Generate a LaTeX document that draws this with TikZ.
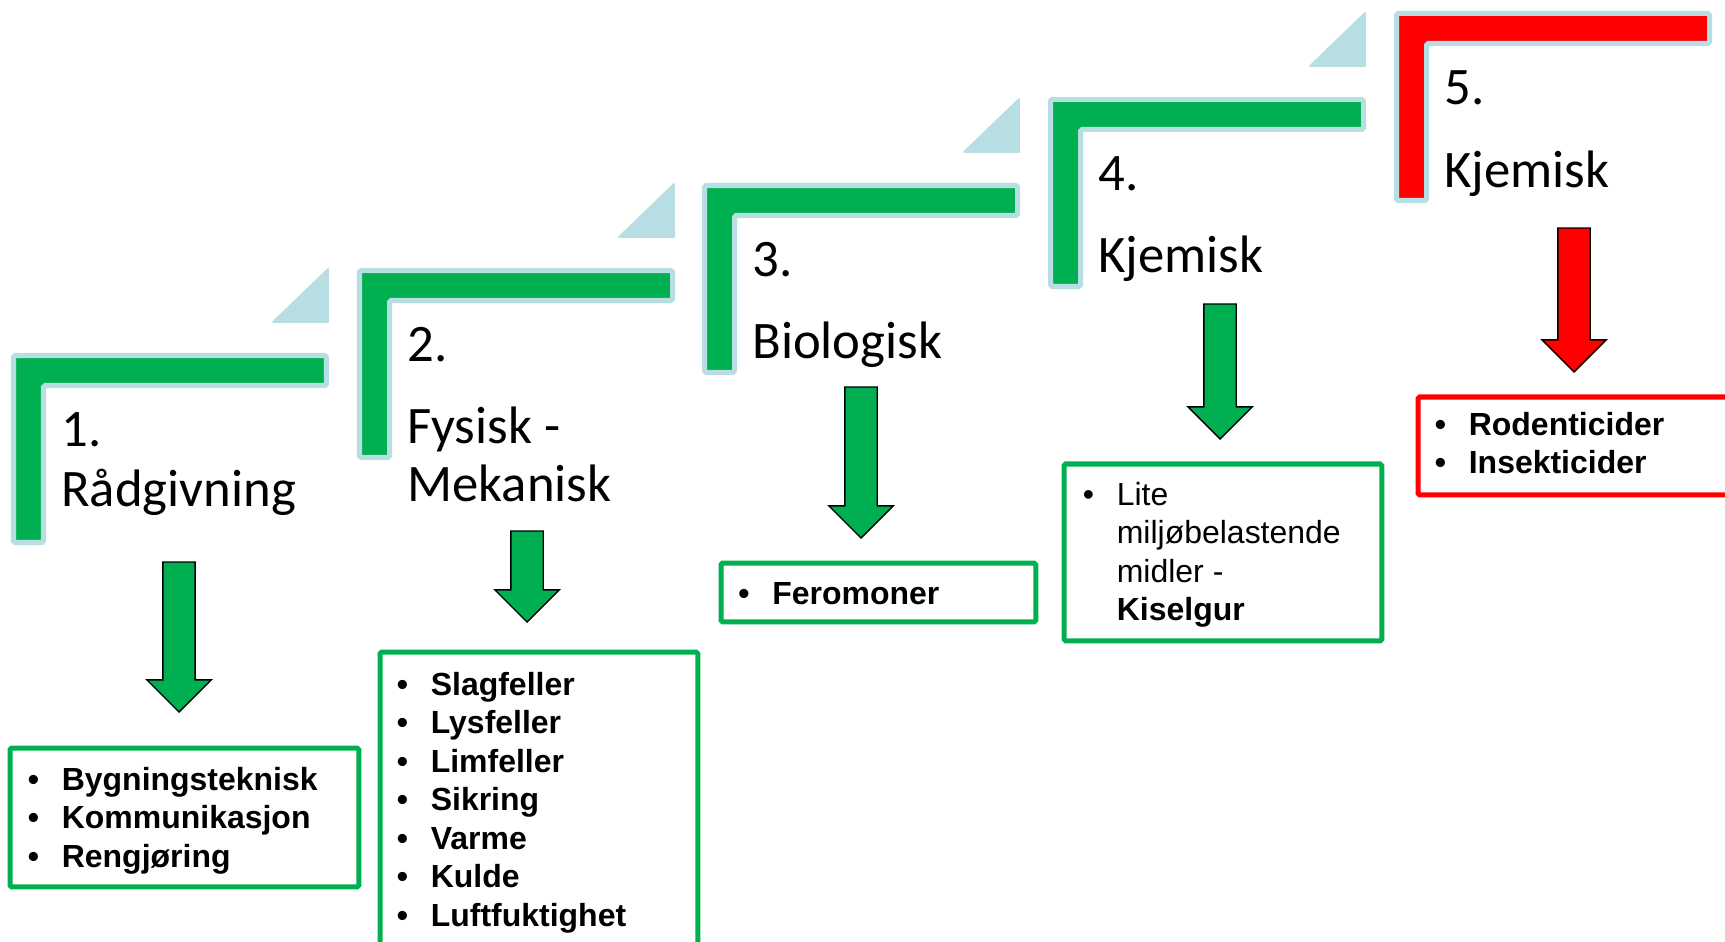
\documentclass[tikz,border=0pt]{standalone}
\usepackage{fontspec}
\newfontfamily\titlefont{Carlito}
\newfontfamily\listfont{Liberation Sans}
\usepackage{tikz}
\usetikzlibrary{shapes.arrows}
\definecolor{stepgreen}{RGB}{0, 176, 80}
\definecolor{stepred}{RGB}{255, 0, 0}
\definecolor{edgeblue}{RGB}{183, 222, 226}
\newcommand{\bitem}[1]{\strut\makebox[0.68cm][l]{\textbullet}#1}
\newcommand{\bcont}[1]{\strut\hspace*{0.68cm}#1}

\begin{document}
\begin{tikzpicture}[x=0.02cm, y=-0.02cm,
  bar/.style={fill=stepgreen, draw=edgeblue, line width=2.85pt, rounded corners=1pt},
  wedge/.style={fill=edgeblue, draw=edgeblue, line width=1pt, line join=round},
  steptitle/.style={font=\titlefont\fontsize{30pt}{33pt}\selectfont, anchor=base west, inner sep=0pt, align=left},
  downarrow/.style={single arrow, draw=black, line width=0.8pt, fill=stepgreen, shape border rotate=270,
    single arrow head extend=0.32cm, inner sep=0.31cm, anchor=tip},
  listbox/.style={draw=stepgreen, line width=2.85pt, fill=white, anchor=north west, inner sep=0pt, rounded corners=1pt},
  listtext/.style={font=\listfont\fontsize{18.2pt}{21.9pt}\selectfont, anchor=north west, inner sep=0pt, align=left},
  listbold/.style={listtext, font=\listfont\bfseries\fontsize{18.2pt}{21.9pt}\selectfont}
]
  \useasboundingbox (0,0) rectangle (1725,942);
  \clip (0,0) rectangle (1725,942);

  % Step 1
  \draw[bar] (13.5,355.5) -- ++(313,0) -- ++(0,30) -- ++(-283,0) -- ++(0,157) -- ++(-30,0) -- cycle;
  \draw[wedge] (328,269) -- (328,322) -- (273,322) -- cycle;
  \node[steptitle] (num1) at (61,447) {1.};
  \node[steptitle] (title1) at (61,507) {Rådgivning};
  \node[downarrow, minimum height=3cm] (arrow1) at (179,713) {};
  \node[listbox, minimum width=6.98cm, minimum height=2.78cm] (box1) at (7.5,745.5) {};
  \node[listbold] (list1) at (27.5,763.1) {\bitem{Bygningsteknisk}\\ \bitem{Kommunikasjon}\\ \bitem{Rengjøring}};

  % Step 2
  \draw[bar] (359.5,270.5) -- ++(313,0) -- ++(0,30) -- ++(-283,0) -- ++(0,157) -- ++(-30,0) -- cycle;
  \draw[wedge] (674,184) -- (674,237) -- (619,237) -- cycle;
  \node[steptitle] (num2) at (407,362) {2.};
  \node[steptitle] (title2) at (407,501) {Fysisk -\\Mekanisk};
  \node[downarrow, minimum height=1.82cm] (arrow2) at (527,623) {};
  \node[listbox, minimum width=6.36cm, minimum height=6.1cm] (box2) at (377.5,649.5) {};
  \node[listbold] (list2) at (396.5,668.1) {\bitem{Slagfeller}\\ \bitem{Lysfeller}\\ \bitem{Limfeller}\\
    \bitem{Sikring}\\ \bitem{Varme}\\ \bitem{Kulde}\\ \bitem{Luftfuktighet}};

  % Step 3
  \draw[bar] (704.5,185.5) -- ++(313,0) -- ++(0,30) -- ++(-283,0) -- ++(0,157) -- ++(-30,0) -- cycle;
  \draw[wedge] (1019,99) -- (1019,152) -- (964,152) -- cycle;
  \node[steptitle] (num3) at (752,277) {3.};
  \node[steptitle] (title3) at (752,359) {Biologisk};
  \node[downarrow, minimum height=3.02cm] (arrow3) at (861,539) {};
  \node[listbox, minimum width=6.3cm, minimum height=1.18cm] (box3) at (718.5,560.5) {};
  \node[listbold] (list3) at (738,577.1) {\bitem{Feromoner}};

  % Step 4
  \draw[bar] (1050.5,99.5) -- ++(313,0) -- ++(0,30) -- ++(-283,0) -- ++(0,157) -- ++(-30,0) -- cycle;
  \draw[wedge] (1365,13) -- (1365,66) -- (1310,66) -- cycle;
  \node[steptitle] (num4) at (1098,191) {4.};
  \node[steptitle] (title4) at (1098,273) {Kjemisk};
  \node[downarrow, minimum height=2.7cm] (arrow4) at (1220,440) {};
  \node[listbox, minimum width=6.36cm, minimum height=3.54cm] (box4) at (1061.5,461.5) {};
  \node[listtext] (list4) at (1082.5,478.1) {\bitem{Lite}\\ \bcont{miljøbelastende}\\ \bcont{midler -}\\ \bcont{\textbf{Kiselgur}}};

  % Step 5
  \draw[bar, fill=stepred] (1396.5,13.5) -- ++(313,0) -- ++(0,30) -- ++(-283,0) -- ++(0,157) -- ++(-30,0) -- cycle;
  \node[steptitle] (num5) at (1444,105) {5.};
  \node[steptitle] (title5) at (1444,188) {Kjemisk};
  \node[downarrow, fill=stepred, minimum height=2.88cm] (arrow5) at (1574,373) {};
  \node[listbox, draw=stepred, minimum width=6.36cm, minimum height=1.96cm] (box5) at (1415.5,394.5) {};
  \node[listbold] (list5) at (1434.5,408.1) {\bitem{Rodenticider}\\ \bitem{Insekticider}};
\end{tikzpicture}
\end{document}
